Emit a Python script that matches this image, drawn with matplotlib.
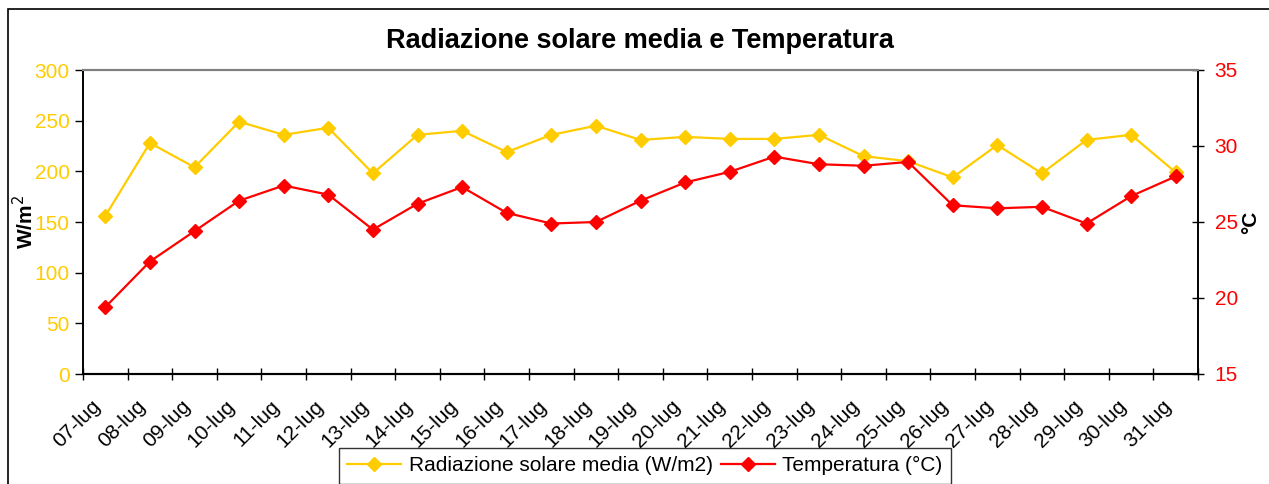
import matplotlib
matplotlib.use("Agg")
import matplotlib.pyplot as plt
from matplotlib.patches import Rectangle
from matplotlib.transforms import ScaledTranslation
import numpy as np

plt.rcParams['font.family'] = ['Liberation Sans', 'DejaVu Sans']

days = ["07-lug", "08-lug", "09-lug", "10-lug", "11-lug", "12-lug", "13-lug",
        "14-lug", "15-lug", "16-lug", "17-lug", "18-lug", "19-lug", "20-lug",
        "21-lug", "22-lug", "23-lug", "24-lug", "25-lug", "26-lug", "27-lug",
        "28-lug", "29-lug", "30-lug", "31-lug"]
radiazione = [156, 228, 204, 249, 236, 243, 198, 236, 240, 219, 236, 245, 231,
              234, 232, 232, 236, 215, 210, 194, 226, 198, 231, 236, 199]
temperatura = [19.4, 22.4, 24.4, 26.4, 27.4, 26.8, 24.5, 26.2, 27.3, 25.6, 24.9,
               25.0, 26.4, 27.6, 28.3, 29.3, 28.8, 28.7, 28.95, 26.1, 25.9, 26.0,
               24.9, 26.7, 28.0]

yellow = '#FFCC00'
red = '#FF0000'

fig = plt.figure(figsize=(12.69, 4.84), dpi=100)
ax1 = fig.add_axes([83 / 1269, 1 - 374 / 484, 1115 / 1269, 304 / 484])
ax2 = ax1.twinx()

x = np.arange(len(days))
l1, = ax1.plot(x, radiazione, color=yellow, lw=1.6, marker='D', ms=7.5,
               label="Radiazione solare media (W/m2)")
l2, = ax2.plot(x, temperatura, color=red, lw=1.6, marker='D', ms=7.5,
               label="Temperatura (°C)")

ax1.set_xlim(-0.5, len(days) - 0.5)
ax1.set_ylim(0, 300)
ax1.set_yticks(range(0, 301, 50))
ax2.set_ylim(15, 35)
ax2.set_yticks(range(15, 36, 5))

ax1.set_xticks(x)
ax1.set_xticklabels(days, rotation=45, ha='right', rotation_mode='anchor',
                    fontsize=15)
ax1.set_xticks(np.arange(-0.5, len(days)), minor=True)
ax1.tick_params(axis='x', which='major', length=0, pad=16)
ax1.tick_params(axis='x', which='minor', direction='inout', length=9, width=1)
# shift the rotated labels a bit to the left, like the original
shift = ScaledTranslation(-14 / 100, 0, fig.dpi_scale_trans)
for lab in ax1.get_xticklabels():
    lab.set_transform(lab.get_transform() + shift)

ax1.tick_params(axis='y', labelcolor=yellow, labelsize=15, length=6,
                direction='out', width=1)
ax2.tick_params(axis='y', labelcolor=red, labelsize=15, length=8,
                direction='inout', width=1, pad=8)

for ax in (ax1, ax2):
    ax.spines['top'].set_color('#808080')
    ax.spines['top'].set_linewidth(1.5)
    ax.spines['left'].set_linewidth(1.2)
    ax.spines['right'].set_linewidth(1.2)
    ax.spines['bottom'].set_linewidth(1.5)

ax1.set_ylabel("W/m$^2$", fontsize=15, fontweight='bold', labelpad=-2)
ax2.set_ylabel("°C", fontsize=15, fontweight='bold', rotation=90, labelpad=2)

fig.text(640 / 1269, 1 - 41 / 484, "Radiazione solare media e Temperatura",
         ha='center', va='center', fontsize=19.5, fontweight='bold')

leg = fig.legend(handles=[l1, l2], loc='upper center',
                 bbox_to_anchor=(645 / 1269, 1 - 448 / 484), ncol=2,
                 fontsize=15, frameon=True, fancybox=False, edgecolor='black',
                 handlelength=2.6, handletextpad=0.35, columnspacing=0.4,
                 borderpad=0.4, borderaxespad=0)
leg.get_frame().set_linewidth(1.0)

fig.patches.append(Rectangle((8 / 1269, -0.1), 1.2, 1.1 - 9 / 484,
                             transform=fig.transFigure, fill=False,
                             edgecolor='black', lw=1.2))

fig.savefig("out.png", dpi=100)
